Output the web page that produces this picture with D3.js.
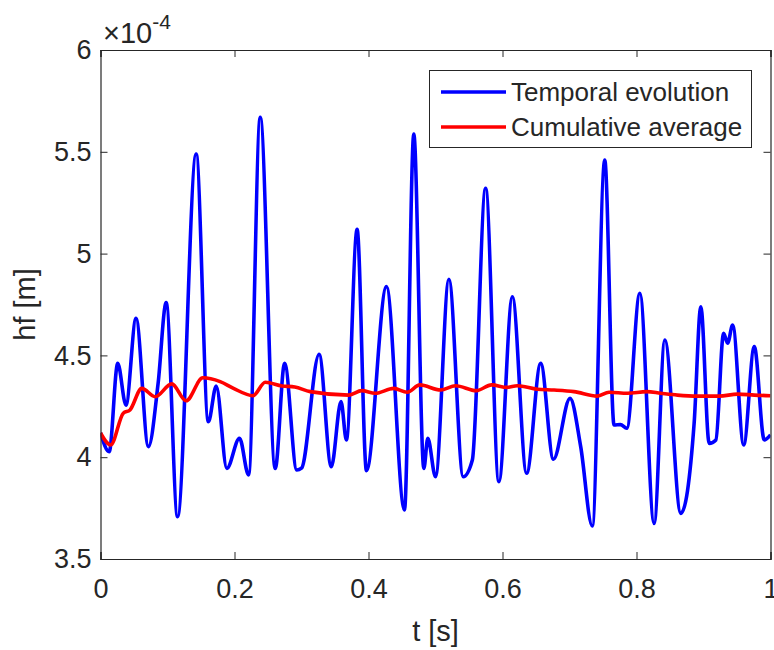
<!DOCTYPE html>
<html>
<head>
<meta charset="utf-8">
<script src="https://cdn.jsdelivr.net/npm/d3@7"></script>
<style>
  body { margin: 0; background: #fff; }
  text { font-family: "Liberation Sans", Arial, Helvetica, sans-serif; fill: #262626; }
</style>
</head>
<body>
<svg id="chart" width="774" height="650"></svg>
<script>
// time samples and values (hf in units of 1e-4 m)
const tempT = [0, 0.013, 0.0257, 0.038, 0.053, 0.0715, 0.086, 0.098, 0.115, 0.1428,
  0.161, 0.1727, 0.1886, 0.2075, 0.221, 0.2384, 0.2608, 0.2748, 0.293, 0.30,
  0.3263, 0.3445, 0.359, 0.367, 0.383, 0.397, 0.4268, 0.4537, 0.4676, 0.4826,
  0.4885, 0.50, 0.52, 0.5414, 0.555, 0.5748, 0.5946, 0.6147, 0.636, 0.657,
  0.676, 0.7008, 0.7167, 0.734, 0.7526, 0.7665, 0.776, 0.7855, 0.805, 0.8263,
  0.8423, 0.8662, 0.886, 0.896, 0.9085, 0.9185, 0.930, 0.936, 0.9435, 0.96,
  0.9758, 0.9907, 1.0];
const tempHf = [4.12, 4.027, 4.461, 4.256, 4.682, 4.052, 4.363, 4.759, 3.708, 5.489,
  4.174, 4.350, 3.945, 4.093, 3.913, 5.669, 3.945, 4.461, 3.937, 3.946,
  4.505, 3.953, 4.273, 4.085, 5.119, 3.934, 4.838, 3.741, 5.587, 3.945,
  4.093, 3.904, 4.874, 3.904, 3.986, 5.321, 3.88, 4.788, 3.921, 4.461,
  3.99, 4.289, 4.052, 3.662, 5.46, 4.158, 4.16, 4.142, 4.805, 3.675,
  4.576, 3.724, 4.166, 4.739, 4.068, 4.085, 4.608, 4.56, 4.649, 4.06,
  4.543, 4.085, 4.11];

const avgT = [0, 0.0152, 0.034, 0.044, 0.0616, 0.0815, 0.1064, 0.1278, 0.1527, 0.1786,
  0.1985, 0.2275, 0.246, 0.2708, 0.29, 0.313, 0.3705, 0.390, 0.410, 0.4377,
  0.4577, 0.4767, 0.5075, 0.53, 0.561, 0.5837, 0.607, 0.622, 0.652, 0.677,
  0.7067, 0.7417, 0.759, 0.7865, 0.8154, 0.836, 0.861, 0.891, 0.9235, 0.951,
  0.976, 1.0];
const avgHf = [4.119, 4.06, 4.216, 4.232, 4.338, 4.297, 4.36, 4.277, 4.39, 4.371,
  4.338, 4.302, 4.368, 4.35, 4.345, 4.322, 4.305, 4.327, 4.314, 4.338,
  4.319, 4.355, 4.33, 4.351, 4.327, 4.355, 4.343, 4.351, 4.334, 4.33,
  4.322, 4.30, 4.319, 4.314, 4.322, 4.314, 4.305, 4.30, 4.30, 4.31,
  4.305, 4.302];

const xTicks = [0, 0.2, 0.4, 0.6, 0.8, 1];
const yTicks = [3.5, 4, 4.5, 5, 5.5, 6];
const seriesNames = ["Temporal evolution", "Cumulative average"];
const seriesColors = ["#0000ff", "#ff0000"];

const margin = {left: 100.5, right: 3.5, top: 50, bottom: 91};
const W = 774, H = 650;
const svg = d3.select("#chart");

const x = d3.scaleLinear().domain([0, 1]).range([margin.left, W - margin.right]);
const y = d3.scaleLinear().domain([3.5, 6]).range([H - margin.bottom, margin.top]);

svg.append("clipPath").attr("id", "clip")
  .append("rect")
    .attr("x", x(0)).attr("y", y(6))
    .attr("width", x(1) - x(0)).attr("height", y(3.5) - y(6));

const line = d3.line()
  .x(d => x(d[0]))
  .y(d => y(d[1]))
  .curve(d3.curveMonotoneX);

const plot = svg.append("g").attr("clip-path", "url(#clip)");
plot.append("path")
  .datum(d3.zip(tempT, tempHf))
  .attr("d", line)
  .attr("fill", "none")
  .attr("stroke", seriesColors[0])
  .attr("stroke-width", 3.6)
  .attr("stroke-linejoin", "round");
plot.append("path")
  .datum(d3.zip(avgT, avgHf))
  .attr("d", line)
  .attr("fill", "none")
  .attr("stroke", seriesColors[1])
  .attr("stroke-width", 3.6)
  .attr("stroke-linejoin", "round");

// axes, MATLAB style: ticks inward on all four sides
const tickLen = 7;
const fmt = d => d3.format("~g")(d);

const axB = svg.append("g").attr("transform", `translate(0,${y(3.5)})`)
  .call(d3.axisBottom(x).tickValues(xTicks).tickSize(-tickLen).tickPadding(20).tickFormat(fmt));
const axT = svg.append("g").attr("transform", `translate(0,${y(6)})`)
  .call(d3.axisTop(x).tickValues(xTicks).tickSize(-tickLen).tickFormat(""));
const axL = svg.append("g").attr("transform", `translate(${x(0)},0)`)
  .call(d3.axisLeft(y).tickValues(yTicks).tickSize(-tickLen).tickPadding(9).tickFormat(fmt));
const axR = svg.append("g").attr("transform", `translate(${x(1)},0)`)
  .call(d3.axisRight(y).tickValues(yTicks).tickSize(-tickLen).tickFormat(""));

[axB, axT, axL, axR].forEach(g => {
  g.select(".domain").attr("stroke", "#262626").attr("stroke-width", 1.2);
  g.selectAll(".tick line").attr("stroke", "#262626").attr("stroke-width", 1);
  g.selectAll(".tick text").style("font-size", "27px").attr("fill", "#262626");
});
axB.selectAll(".tick text").attr("y", 0).attr("dy", "39px");

// axis labels
svg.append("text")
  .attr("x", x(0.5)).attr("y", 641)
  .attr("text-anchor", "middle")
  .style("font-size", "29px")
  .text("t [s]");
svg.append("text")
  .attr("transform", `translate(35,${y(4.75)}) rotate(-90)`)
  .attr("text-anchor", "middle")
  .style("font-size", "29px")
  .text("hf [m]");

// exponent annotation
const expo = svg.append("text")
  .attr("x", 103).attr("y", 43)
  .style("font-size", "29px");
expo.append("tspan").text("\u00d710");
expo.append("tspan").attr("dy", -14).style("font-size", "21px").text("-4");

// legend
const lg = svg.append("g");
lg.append("rect")
  .attr("x", 429.5).attr("y", 70.5)
  .attr("width", 322).attr("height", 77)
  .attr("fill", "#fff").attr("stroke", "#262626").attr("stroke-width", 1);
seriesNames.forEach((name, i) => {
  const yy = 92 + i * 35;
  lg.append("line")
    .attr("x1", 441).attr("x2", 506)
    .attr("y1", yy).attr("y2", yy)
    .attr("stroke", seriesColors[i]).attr("stroke-width", 3.6);
  lg.append("text")
    .attr("x", 511).attr("y", yy)
    .attr("dy", "0.35em")
    .style("font-size", "26px")
    .text(name);
});
</script>
</body>
</html>
